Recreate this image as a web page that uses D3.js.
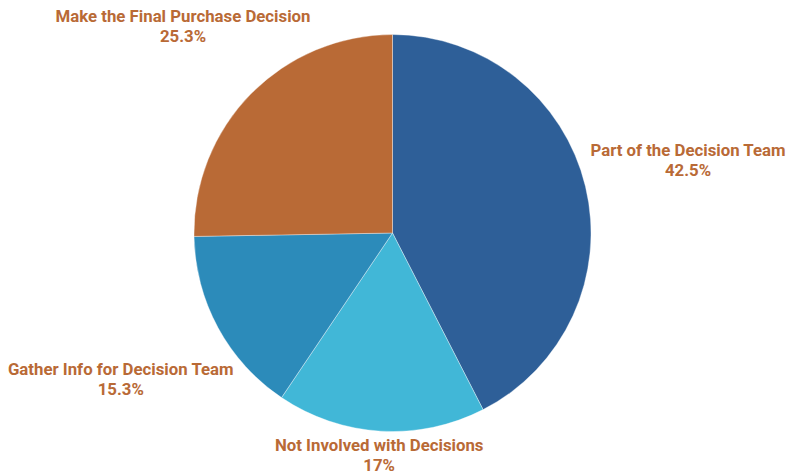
<!DOCTYPE html>
<html><head><meta charset="utf-8">
<script src="https://cdn.jsdelivr.net/npm/d3@7"></script>
<style>body{margin:0;background:#fff;}svg{display:block;}</style>
</head><body>
<svg id="chart" width="788" height="476"></svg>
<script>
const categories = ["Part of the Decision Team", "Not Involved with Decisions", "Gather Info for Decision Team", "Make the Final Purchase Decision"];
const values = [42.5, 17, 15.3, 25.3];
const valueLabels = ["42.5%", "17%", "15.3%", "25.3%"];
const colors = ["#2E5F98", "#41B7D7", "#2C8BBA", "#B96A36"];

const W = 788, H = 476;
const cx = 392.5, cy = 233, R = 198.5, gap = 6.5;
const svg = d3.select("#chart");
const g = svg.append("g").attr("transform", `translate(${cx},${cy})`);

const pie = d3.pie().sort(null).value(d => d)(values);
const arc = d3.arc().innerRadius(0).outerRadius(R);

g.selectAll("path").data(pie).join("path")
  .attr("d", arc)
  .attr("fill", (d, i) => colors[i])
  .attr("stroke", "#ffffff")
  .attr("stroke-opacity", 0.6)
  .attr("stroke-width", 0.6);

const fontSize = 16.8, lineH = 20;
const labelColor = "#B96A36";

pie.forEach((d, i) => {
  const t = g.append("text")
    .attr("fill", labelColor)
    .attr("font-family", "Roboto, 'Open Sans', sans-serif")
    .attr("font-weight", 700)
    .attr("font-size", fontSize + "px")
    .attr("text-anchor", "middle");
  const l1 = t.append("tspan").attr("x", 0).attr("y", 0).text(categories[i]);
  const l2 = t.append("tspan").attr("x", 0).attr("y", lineH).text(valueLabels[i]);
  const w = Math.max(l1.node().getComputedTextLength(), l2.node().getComputedTextLength());
  const h = lineH + 16;
  const a = (d.startAngle + d.endAngle) / 2;
  const ux = Math.sin(a), uy = -Math.cos(a);
  // find distance r so nearest point of the label box is at R+gap
  const dist = r => {
    const bx = r * ux, by = r * uy;
    const nx = Math.max(Math.abs(bx) - w / 2, 0);
    const ny = Math.max(Math.abs(by) - h / 2, 0);
    return Math.hypot(nx, ny);
  };
  let lo = 0, hi = 800;
  for (let k = 0; k < 60; k++) {
    const m = (lo + hi) / 2;
    if (dist(m) < R + gap) lo = m; else hi = m;
  }
  let bx = hi * ux, by = hi * uy;
  // keep inside the canvas
  bx = Math.min(Math.max(bx, -cx + w / 2), W - cx - w / 2);
  const top = by - h / 2;
  t.attr("transform", `translate(${bx},${top + 12.5})`);
});
</script>
</body></html>
